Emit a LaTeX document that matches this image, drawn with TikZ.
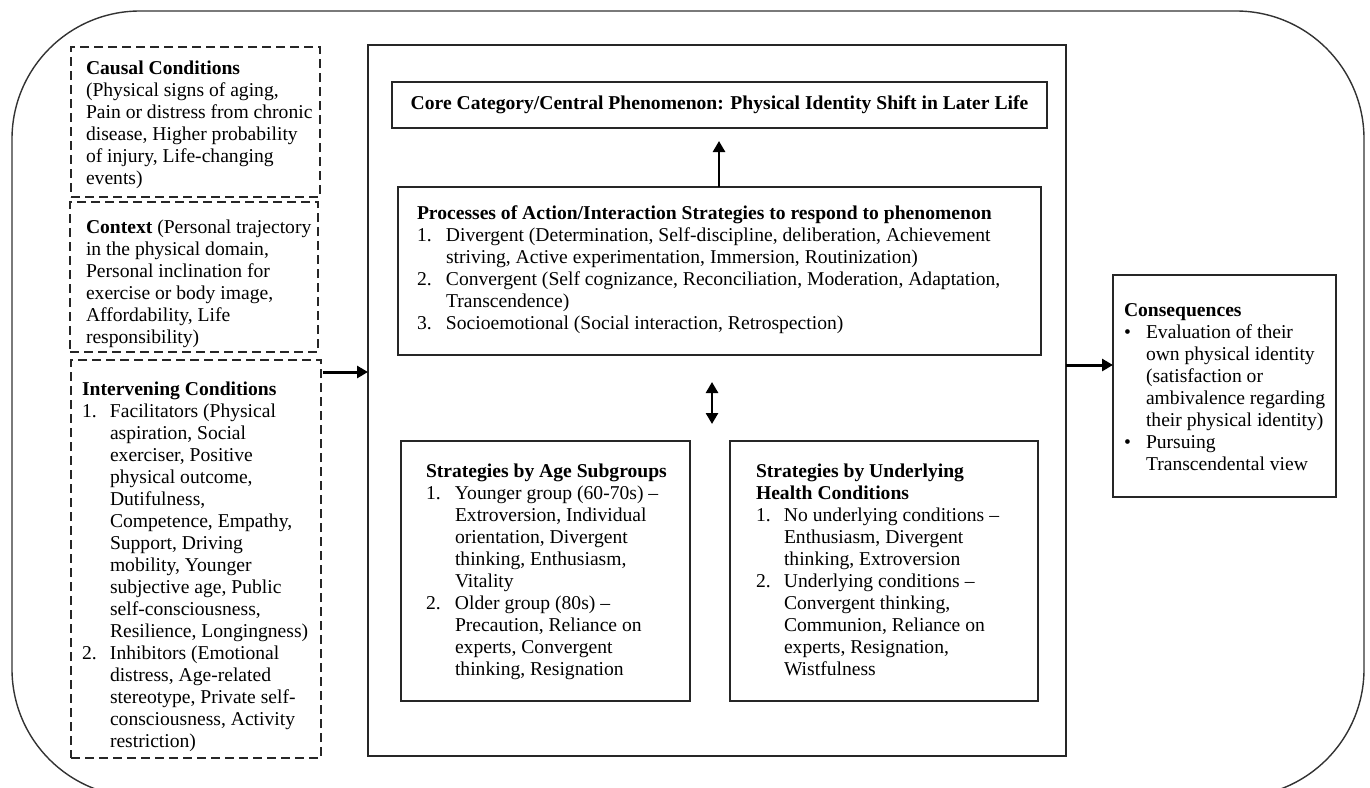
\documentclass[tikz,border=0pt]{standalone}
\usepackage{fontspec}
\setmainfont{Liberation Serif}
\usetikzlibrary{arrows.meta}
\newcommand\myfs{\fontsize{19.6}{22}\selectfont}
\newcommand\itm[2][28pt]{\par\hangindent=#1\hangafter=1\noindent\makebox[#1][l]{#2}}
\newcommand\tb[2]{\begin{minipage}[t]{#1}\myfs #2\end{minipage}}
\begin{document}
\begin{tikzpicture}[x=1pt,y=-1pt,
  box/.style={draw=black!85,line width=1.3pt,inner sep=0pt,outer sep=0pt},
  dbox/.style={box,dash pattern=on 9pt off 5pt},
  txt/.style={anchor=base west,inner sep=0pt,outer sep=0pt},
  arr/.style={line width=3pt,-{Triangle[length=11pt,width=12pt]}},
  darr/.style={line width=3pt,{Triangle[length=11pt,width=12pt]}-{Triangle[length=11pt,width=12pt]}}]
\useasboundingbox (0,0) rectangle (1370,787);
\fill[white] (0,0) rectangle (1370,787);
% outer frame
\draw[line width=1.4pt,black!80,rounded corners=128pt] (12,11) rectangle (1364,797);
% left dashed boxes
\node[dbox,minimum width=249pt,minimum height=150pt] (causal) at (195.5,122) {};
\node[dbox,minimum width=248pt,minimum height=150pt] (context) at (194,277) {};
\node[dbox,minimum width=250pt,minimum height=398pt] (interv) at (196,559) {};
% central
\node[box,minimum width=698pt,minimum height=711pt] (central) at (717,400.5) {};
\node[box,minimum width=655pt,minimum height=46pt,font=\myfs\bfseries] (core) at (719.5,105)
  {Core Category/Central Phenomenon: Physical Identity Shift in Later Life};
\node[box,minimum width=643pt,minimum height=168pt] (procs) at (719.5,271) {};
\node[box,minimum width=289pt,minimum height=260pt] (age) at (545.5,571) {};
\node[box,minimum width=308pt,minimum height=260pt] (health) at (884,571) {};
\node[box,minimum width=223pt,minimum height=222pt] (cons) at (1224.5,386) {};
% texts
\node[txt] (tcausal) at (86,74) {\tb{300pt}{\textbf{Causal Conditions}\newline
(Physical signs of aging,\newline
Pain or distress from chronic\newline
disease, Higher probability\newline
of injury, Life-changing\newline
events)}};
\node[txt] (tcontext) at (86,233) {\tb{300pt}{\textbf{Context} (Personal trajectory\newline
in the physical domain,\newline
Personal inclination for\newline
exercise or body image,\newline
Affordability, Life\newline
responsibility)}};
\node[txt] (tinterv) at (82,395) {\tb{300pt}{\textbf{Intervening Conditions}
\itm{1.}Facilitators (Physical\newline aspiration, Social\newline exerciser, Positive\newline physical outcome,\newline Dutifulness,\newline Competence, Empathy,\newline Support, Driving\newline mobility, Younger\newline subjective age, Public\newline self-consciousness,\newline Resilience, Longingness)
\itm{2.}Inhibitors (Emotional\newline distress, Age-related\newline stereotype, Private self-\newline consciousness, Activity\newline restriction)}};
\node[txt] (tprocs) at (417,219) {\tb{640pt}{\textbf{Processes of Action/Interaction Strategies to respond to phenomenon}
\itm[29pt]{1.}Divergent (Determination, Self-discipline, deliberation, Achievement\newline striving, Active experimentation, Immersion, Routinization)
\itm[29pt]{2.}Convergent (Self cognizance, Reconciliation, Moderation, Adaptation,\newline Transcendence)
\itm[29pt]{3.}Socioemotional (Social interaction, Retrospection)}};
\node[txt] (tage) at (426,477) {\tb{300pt}{\textbf{Strategies by Age Subgroups}
\itm[29pt]{1.}Younger group (60-70s) –\newline Extroversion, Individual\newline orientation, Divergent\newline thinking, Enthusiasm,\newline Vitality
\itm[29pt]{2.}Older group (80s) –\newline Precaution, Reliance on\newline experts, Convergent\newline thinking, Resignation}};
\node[txt] (thealth) at (756,477) {\tb{320pt}{\textbf{Strategies by Underlying\newline Health Conditions}
\itm{1.}No underlying conditions –\newline Enthusiasm, Divergent\newline thinking, Extroversion
\itm{2.}Underlying conditions –\newline Convergent thinking,\newline Communion, Reliance on\newline experts, Resignation,\newline Wistfulness}};
\node[txt] (tcons) at (1124,316) {\tb{240pt}{\textbf{Consequences}
\itm[22pt]{\textbullet}Evaluation of their\newline own physical identity\newline (satisfaction or\newline ambivalence regarding\newline their physical identity)
\itm[22pt]{\textbullet}Pursuing\newline Transcendental view}};
% connectors
\coordinate (la) at (0,372);
\coordinate (ra) at (0,365);
\draw[arr] (interv.east |- la) ++(2,0) -- (central.west |- la);
\draw[arr] (central.east |- ra) -- (cons.west |- ra);
\draw[arr,line width=2.6pt] (procs.north -| 719,0) -- ([yshift=-13pt]core.south -| 719,0);
\coordinate (da) at (712,382);
\coordinate (db) at (712,424);
\draw[darr,line width=2.6pt] (da) -- (db);
\end{tikzpicture}
\end{document}
